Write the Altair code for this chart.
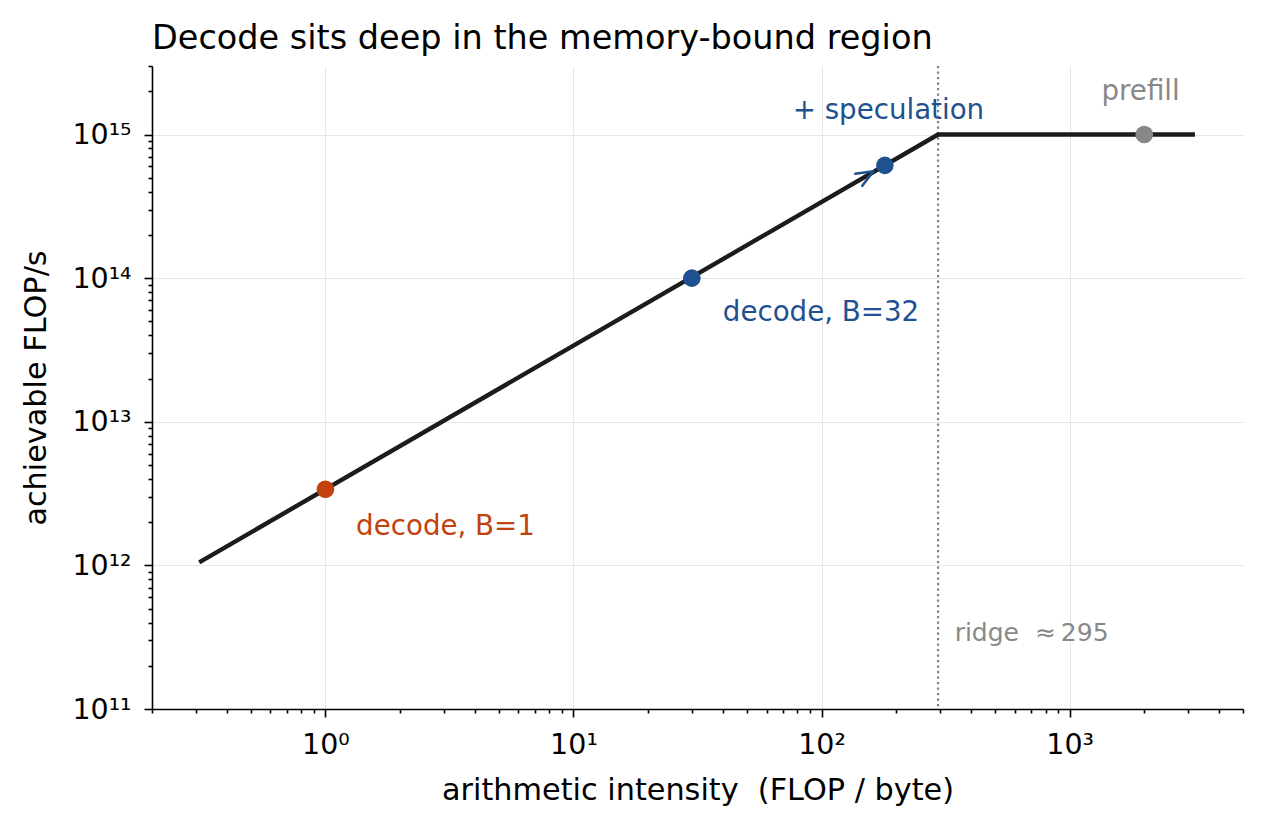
import altair as alt
import pandas as pd

# ---- data ----
line_x = [0.31, 295, 3200]
line_y = [1.05e12, 1.0e15, 1.0e15]

pt_names = ["decode, B=1", "decode, B=32", "+ speculation", "prefill"]
pt_x = [1, 30, 180, 2000]
pt_y = [3.39e12, 1.0e14, 6.1e14, 1.0e15]

ridge_x = [295]

arrow_x = [162]
arrow_y = [5.55e14]

label_text = ["decode, B=1", "decode, B=32", "+ speculation", "prefill", "ridge \u00a0\u2248\u2009295"]
label_x = [1.33, 40, 186, 1933, 344]
label_y = [1.85e12, 5.75e13, 1.45e15, 1.98e15, 3.4e11]

x_major = [1, 10, 100, 1000]
y_major = [1e11, 1e12, 1e13, 1e14, 1e15]
x_ticks = [m * 10.0 ** k for k in range(-1, 4) for m in range(1, 10) if 0.2 <= m * 10.0 ** k <= 5000]
y_ticks = [m * 10.0 ** k for k in range(11, 16) for m in range(1, 10) if m * 10.0 ** k <= 3e15]

ORANGE = "#c2410c"
BLUE = "#1f5190"
GREY = "#888888"
FONT = "DejaVu Sans"

W, H = 1091, 643

xscale = alt.Scale(type="log", domain=[0.2, 5000], nice=False, zero=False)
yscale = alt.Scale(type="log", domain=[1e11, 3e15], nice=False, zero=False)

x_major_test = "indexof([1,10,100,1000], datum.value) >= 0"
y_major_test = "indexof([1e11,1e12,1e13,1e14,1e15], datum.value) >= 0"

x_axis = alt.Axis(
    values=x_ticks,
    labelExpr="datum.value == 1 ? '10⁰' : datum.value == 10 ? '10¹' : datum.value == 100 ? '10²' : datum.value == 1000 ? '10³' : ''",
    tickSize={"condition": {"test": x_major_test, "value": 8}, "value": 4},
    gridOpacity={"condition": {"test": x_major_test, "value": 1}, "value": 0},
    title="arithmetic intensity \u00a0(FLOP / byte)",
    titleX=W / 2, titleY=81, titleBaseline="middle", titleAlign="center",
    labelPadding=13, labelFlush=False, labelOverlap=False,
)
y_axis = alt.Axis(
    values=y_ticks,
    labelExpr="datum.value == 1e11 ? '10¹¹' : datum.value == 1e12 ? '10¹²' : datum.value == 1e13 ? '10¹³' : datum.value == 1e14 ? '10¹⁴' : datum.value == 1e15 ? '10¹⁵' : ''",
    tickSize={"condition": {"test": y_major_test, "value": 8}, "value": 4},
    gridOpacity={"condition": {"test": y_major_test, "value": 1}, "value": 0},
    title="achievable FLOP/s",
    titleX=-116, titleY=H / 2, titleBaseline="middle", titleAlign="center", titleAngle=270,
    labelPadding=13, labelFlush=False, labelOverlap=False,
)

line_df = pd.DataFrame({"x": line_x, "y": line_y})
pts_df = pd.DataFrame({"name": pt_names, "x": pt_x, "y": pt_y})
ridge_df = pd.DataFrame({"x": ridge_x})
arrow_df = pd.DataFrame({"x": arrow_x, "y": arrow_y})
lab_df = pd.DataFrame({"text": label_text, "x": label_x, "y": label_y})

ridge = alt.Chart(ridge_df).mark_rule(color="#808080", strokeWidth=2.2, strokeDash=[2.2, 3.3]).encode(
    x=alt.X("x:Q", scale=xscale, axis=x_axis)
)

roof = alt.Chart(line_df).mark_line(color="#1c1c1c", strokeWidth=4.4).encode(
    x=alt.X("x:Q", scale=xscale, axis=x_axis),
    y=alt.Y("y:Q", scale=yscale, axis=y_axis),
)

arrow = alt.Chart(arrow_df).mark_point(
    shape="M-1,-0.41L0,0L-1,0.41", filled=False, stroke=BLUE, strokeWidth=2.6,
    size=1156, angle=330, opacity=1, strokeCap="round", strokeJoin="round",
).encode(
    x=alt.X("x:Q", scale=xscale),
    y=alt.Y("y:Q", scale=yscale),
)

points = alt.Chart(pts_df).mark_circle(size=310, opacity=1).encode(
    x=alt.X("x:Q", scale=xscale),
    y=alt.Y("y:Q", scale=yscale),
    color=alt.Color("name:N", scale=alt.Scale(domain=pt_names, range=[ORANGE, BLUE, BLUE, GREY]), legend=None),
)


def label(i, color, align, size):
    return alt.Chart(lab_df.iloc[[i]]).mark_text(
        color=color, align=align, baseline="middle", font=FONT, fontSize=size
    ).encode(
        x=alt.X("x:Q", scale=xscale),
        y=alt.Y("y:Q", scale=yscale),
        text="text:N",
    )


labels = [
    label(0, ORANGE, "left", 27.7),
    label(1, BLUE, "left", 27.7),
    label(2, BLUE, "center", 27.7),
    label(3, GREY, "center", 27.7),
    label(4, GREY, "left", 25),
]

chart = alt.layer(ridge, roof, arrow, points, *labels).properties(
    width=W,
    height=H,
    autosize=alt.AutoSizeParams(type="none"),
    padding={"left": 144, "top": 58, "right": 13, "bottom": 110},
    title=alt.Title(
        "Decode sits deep in the memory-bound region",
        anchor="start", frame="group", font=FONT, fontSize=33.5, fontWeight="normal",
        color="black", offset=-4,
    ),
).configure_view(stroke=None).configure_axis(
    labelFont=FONT, titleFont=FONT, labelFontSize=28.5, titleFontSize=30.3,
    labelColor="black", titleColor="black", titleFontWeight="normal",
    domainColor="black", domainWidth=1.6, tickColor="black", tickWidth=1.6,
    gridColor="#e6e6e6", gridWidth=1,
)

chart.save("out.html", embed_options={"renderer": "svg", "actions": False})
